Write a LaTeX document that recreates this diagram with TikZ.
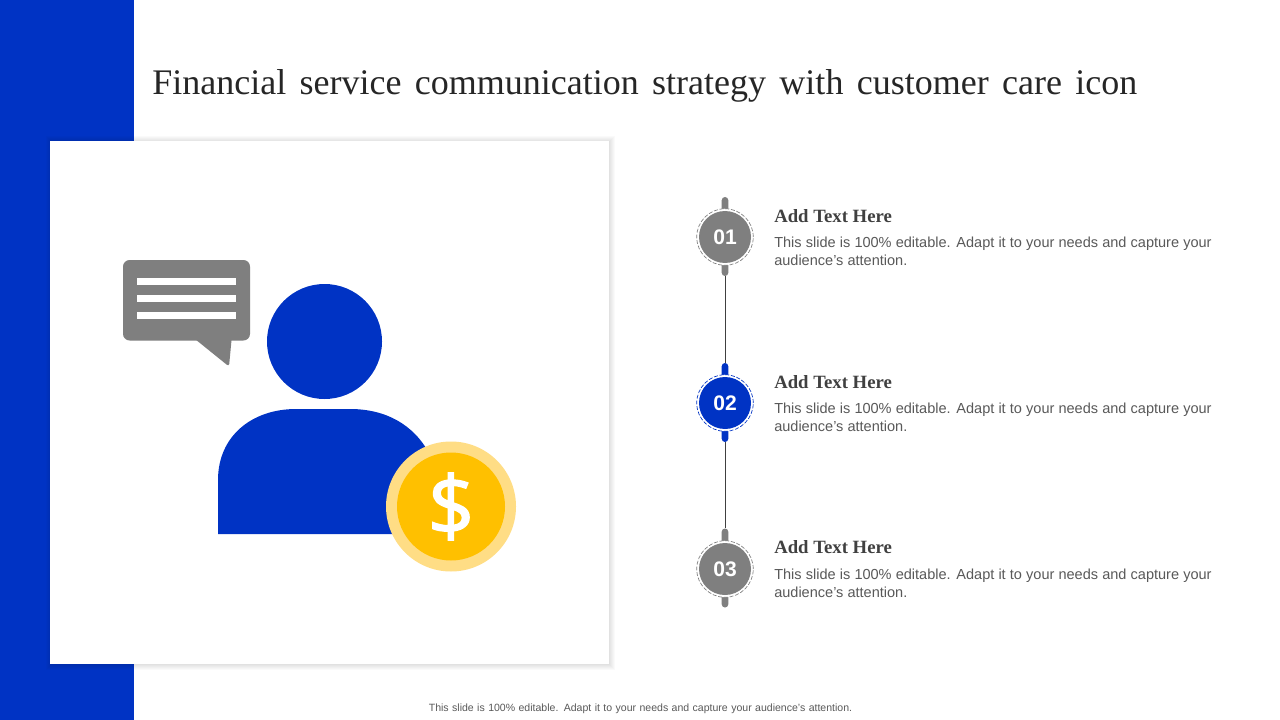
\documentclass[tikz,border=0pt]{standalone}
\usepackage{fontspec}
\setmainfont{Liberation Sans}
\newfontfamily\serifx{Liberation Serif}
\newfontfamily\dollarf[FakeBold=1.6]{Open Sans}
\usetikzlibrary{calc}
\definecolor{brand}{HTML}{0033C4}
\definecolor{midgray}{HTML}{7F7F7F}
\definecolor{bodygray}{HTML}{595959}
\definecolor{headgray}{HTML}{404040}
\definecolor{titlegray}{HTML}{262626}
\definecolor{coin}{HTML}{FFC000}
\definecolor{coinring}{HTML}{FFDD85}
\tikzset{
  x=0.75pt,y=-0.75pt,
  pill/.style={draw=none,fill=#1,minimum width=5pt,minimum height=59.25pt,rounded corners=2.5pt,inner sep=0pt},
  disc/.style={circle,fill=#1,minimum size=39pt,inner sep=0pt,text=white,font=\bfseries\fontsize{15.8}{18}\selectfont},
  halo/.style={circle,draw=#1,fill=white,dash pattern=on 3pt off 1.3pt,line width=0.5pt,minimum size=42.4pt,inner sep=0pt},
  link/.style={draw=headgray,line width=0.7pt},
  head/.style={anchor=west,inner sep=0pt,text=headgray,font=\serifx\bfseries\fontsize{14.05}{15}\selectfont},
  bodytext/.style={anchor=north west,inner sep=0pt,text=bodygray,align=left,font=\fontsize{10.9}{13.5}\selectfont},
}
\newcommand{\bodylines}{\makebox[328pt][s]{This slide is 100\% editable. Adapt it to your needs and capture your}\\audience’s attention.}
\begin{document}
\begin{tikzpicture}
\useasboundingbox (0,0) rectangle (1280,720);
\fill[white] (0,0) rectangle (1280,720);
\fill[brand] (0,0) rectangle (134,720);
% panel shadow
\foreach \d in {6,5,4,3,2,1}{
  \fill[black,opacity=0.018] ({50-\d+2},{140-\d+2}) rectangle ({609+\d},{664+\d});
}
\node[fill=white,inner sep=0pt,minimum width=419.25pt,minimum height=392.75pt,anchor=north west] (panel) at (50,140.5) {};
% title
\node[anchor=base west,inner sep=0pt,text=titlegray,font=\serifx\fontsize{27}{30}\selectfont] (title) at (152,95)
  {\makebox[738.75pt][s]{Financial service communication strategy with customer care icon}};
% speech bubble
\fill[midgray,rounded corners=5pt] (123,260) -- (250,260) -- (250,340.5) -- (123,340.5) -- cycle;
\fill[midgray,rounded corners=2pt] (190,335) -- (229,366.5) -- (232,335) -- cycle;
\fill[white] (137,277.5) rectangle (236,284.5);
\fill[white] (137,295) rectangle (236,302);
\fill[white] (137,312) rectangle (236,319);
% person
\fill[brand] (324.5,341.5) circle[radius=57.5];
\fill[brand] (218,534) -- (218,480) .. controls (218,436) and (252,409) .. (296,409)
  -- (350,409) .. controls (385,409) and (414,424) .. (430,455) -- (430,534) -- cycle;
% coin
\fill[coinring] (451,506.5) circle[radius=65];
\node[circle,fill=coin,minimum size=81pt,inner sep=0pt,text=white,font=\dollarf\fontsize{62}{64}\selectfont] (coin) at (451,506.5) {\$};
% timeline
\node[pill=midgray] (p1) at (725,236.5) {};
\node[pill=brand] (p2) at (725,402.5) {};
\node[pill=midgray] (p3) at (725,568) {};
\draw[link] (p1.south) -- (p2.north);
\draw[link] (p2.south) -- (p3.north);
\node[halo=midgray] (h1) at (725,237) {};
\node[disc=midgray] (d1) at (725,237) {01};
\node[halo=brand] (h2) at (725,403) {};
\node[disc=brand] (d2) at (725,403) {02};
\node[halo=midgray] (h3) at (725,569) {};
\node[disc=midgray] (d3) at (725,569) {03};
% texts
\node[head] (t1) at (774,216) {Add Text Here};
\node[bodytext] (b1) at (774,237) {\bodylines};
\node[head] (t2) at (774,382) {Add Text Here};
\node[bodytext] (b2) at (774,403) {\bodylines};
\node[head] (t3) at (774,547) {Add Text Here};
\node[bodytext] (b3) at (774,569) {\bodylines};
% footer
\node[anchor=base,inner sep=0pt,text=bodygray,font=\fontsize{7.9}{9}\selectfont] (foot) at (640.5,711.5)
  {\makebox[317.5pt][s]{This slide is 100\% editable. Adapt it to your needs and capture your audience's attention.}};
\end{tikzpicture}
\end{document}
